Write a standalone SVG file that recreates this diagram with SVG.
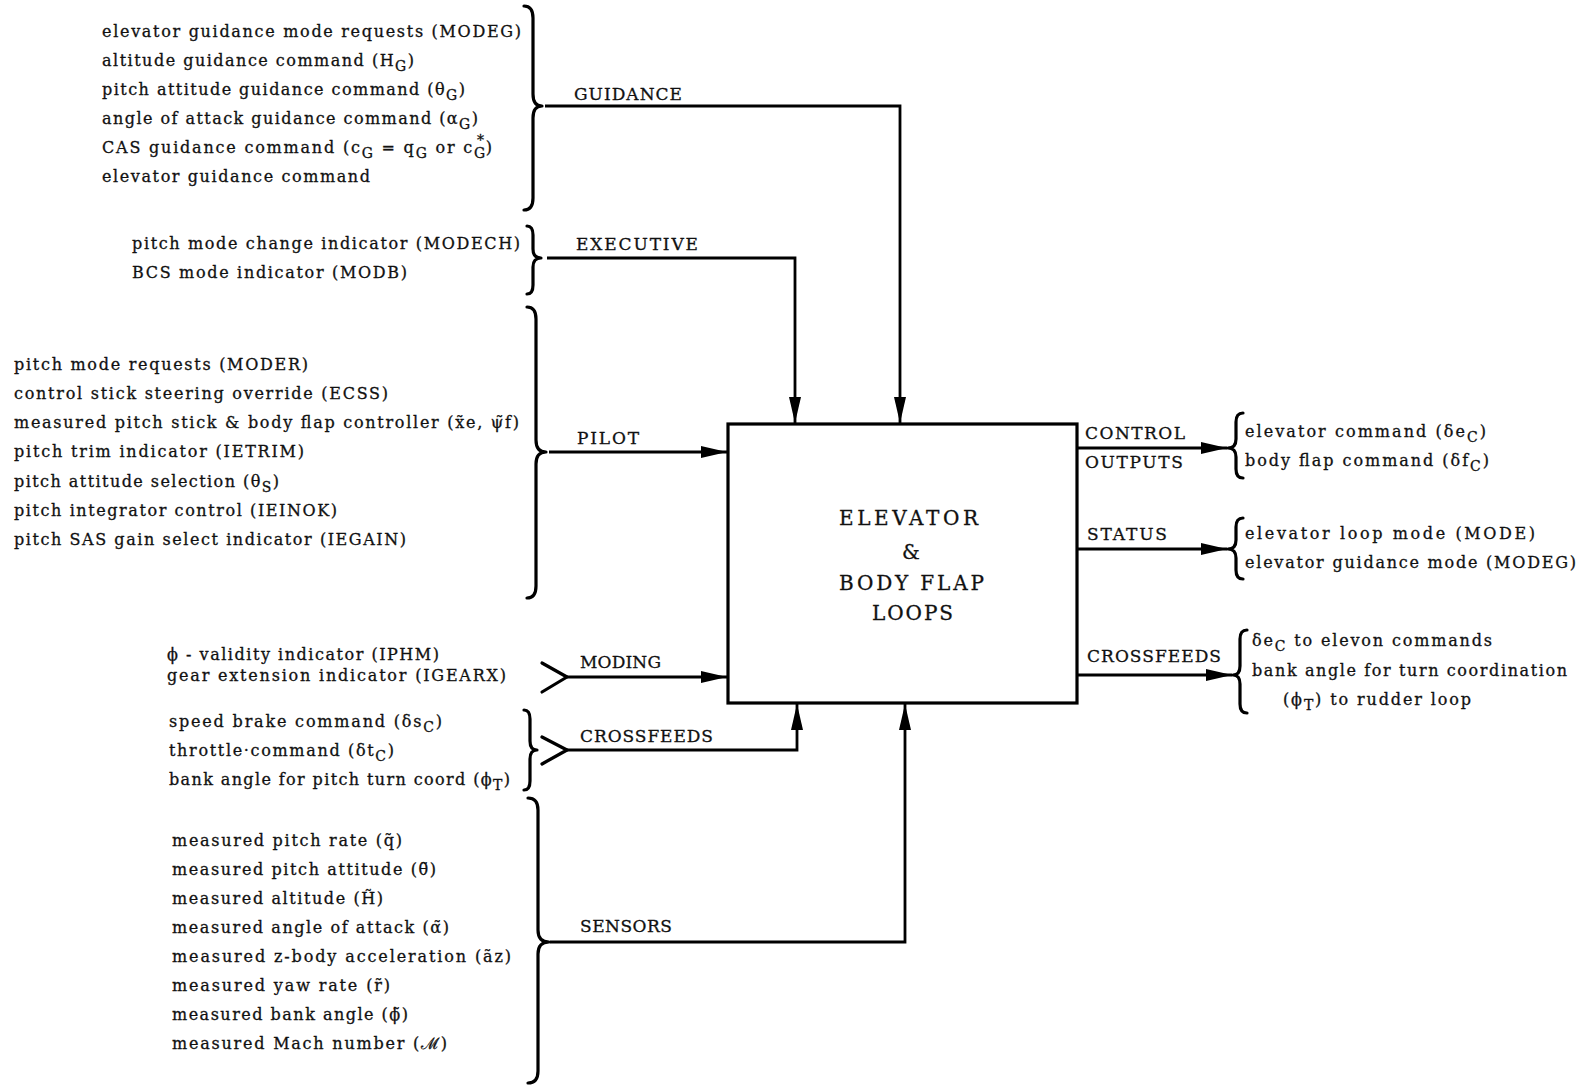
<svg xmlns="http://www.w3.org/2000/svg" width="1589" height="1085" viewBox="0 0 1589 1085">
<style>
.t{font-family:"DejaVu Serif","Liberation Serif",serif;font-size:16px;fill:#111;stroke:#111;stroke-width:0.3}
.lb{font-size:17px}
.bx{font-size:20px}
.s{font-size:14px}
.ln{fill:none;stroke:#000;stroke-width:2.8}
.br{fill:none;stroke:#000;stroke-width:3.2;stroke-linecap:round;stroke-linejoin:round}
.box{fill:#fff;stroke:#000;stroke-width:3.2}
</style>
<defs>
<marker id="ah" markerUnits="userSpaceOnUse" markerWidth="28" markerHeight="14" refX="26" refY="6" orient="auto">
<path d="M0,0 L26,6 L0,12 z" fill="#000"/>
</marker>
</defs>
<rect width="1589" height="1085" fill="#fff"/>

<g id="box">
<rect class="box" x="728" y="424" width="349" height="279"/>
<text class="t bx" x="839" y="525" textLength="139" lengthAdjust="spacing">ELEVATOR</text>
<text class="t bx" x="902" y="559">&amp;</text>
<text class="t bx" x="839" y="590" textLength="145" lengthAdjust="spacing">BODY FLAP</text>
<text class="t bx" x="872" y="620" textLength="81" lengthAdjust="spacing">LOOPS</text>
</g>

<g id="guidance-inputs">
<text class="t" x="102" y="37" textLength="419" lengthAdjust="spacing">elevator guidance mode requests (MODEG)</text>
<text class="t" x="102" y="66" textLength="312" lengthAdjust="spacing">altitude guidance command (H<tspan class="s" dy="5">G</tspan><tspan dy="-5">)</tspan></text>
<text class="t" x="102" y="95" textLength="363" lengthAdjust="spacing">pitch attitude guidance command (θ<tspan class="s" dy="5">G</tspan><tspan dy="-5">)</tspan></text>
<text class="t" x="102" y="124" textLength="376" lengthAdjust="spacing">angle of attack guidance command (α<tspan class="s" dy="5">G</tspan><tspan dy="-5">)</tspan></text>
<text class="t" x="102" y="153" textLength="390" lengthAdjust="spacing">CAS guidance command (c<tspan class="s" dy="5">G</tspan><tspan dy="-5"> = q</tspan><tspan class="s" dy="5">G</tspan><tspan dy="-5"> or c</tspan><tspan class="s" dy="5">G</tspan><tspan class="s" dx="-10" dy="-13">*</tspan><tspan dy="8">)</tspan></text>
<text class="t" x="102" y="182" textLength="268" lengthAdjust="spacing">elevator guidance command</text>
<path class="br" d="M524,6 Q533,6 533,18 L533,94 Q533,106 542,106 Q533,106 533,118 L533,198 Q533,210 524,210"/>
</g>

<g id="executive-inputs">
<text class="t" x="132" y="249" textLength="388" lengthAdjust="spacing">pitch mode change  indicator (MODECH)</text>
<text class="t" x="132" y="278" textLength="275" lengthAdjust="spacing">BCS mode indicator (MODB)</text>
<path class="br" d="M527,226 Q533,226 533,235 L533,249 Q533,258 541,258 Q533,258 533,267 L533,285 Q533,294 527,294"/>
</g>

<g id="pilot-inputs">
<text class="t" x="14" y="370" textLength="294" lengthAdjust="spacing">pitch mode requests (MODER)</text>
<text class="t" x="14" y="399" textLength="374" lengthAdjust="spacing">control stick steering override (ECSS)</text>
<text class="t" x="14" y="428" textLength="505" lengthAdjust="spacing">measured pitch stick &amp; body flap controller (x̃e, ψ̃f)</text>
<text class="t" x="14" y="457" textLength="290" lengthAdjust="spacing">pitch trim indicator (IETRIM)</text>
<text class="t" x="14" y="487" textLength="265" lengthAdjust="spacing">pitch attitude selection (θ<tspan class="s" dy="5">S</tspan><tspan dy="-5">)</tspan></text>
<text class="t" x="14" y="516" textLength="323" lengthAdjust="spacing">pitch integrator control (IEINOK)</text>
<text class="t" x="14" y="545" textLength="392" lengthAdjust="spacing">pitch SAS gain select indicator (IEGAIN)</text>
<path class="br" d="M527,307 Q536,307 536,319 L536,440 Q536,452 546,452 Q536,452 536,464 L536,586 Q536,598 527,598"/>
</g>

<g id="moding-inputs">
<text class="t" x="167" y="660" textLength="272" lengthAdjust="spacing">ϕ - validity indicator (IPHM)</text>
<text class="t" x="167" y="681" textLength="339" lengthAdjust="spacing">gear extension indicator (IGEARX)</text>
<path class="br" d="M542,663 L567,677 L542,692"/>
</g>

<g id="crossfeed-inputs">
<text class="t" x="169" y="727" textLength="273" lengthAdjust="spacing">speed brake command (δs<tspan class="s" dy="5">C</tspan><tspan dy="-5">)</tspan></text>
<text class="t" x="169" y="756" textLength="225" lengthAdjust="spacing">throttle·command (δt<tspan class="s" dy="5">C</tspan><tspan dy="-5">)</tspan></text>
<text class="t" x="169" y="785" textLength="341" lengthAdjust="spacing">bank angle for pitch turn coord (ϕ<tspan class="s" dy="5">T</tspan><tspan dy="-5">)</tspan></text>
<path class="br" d="M524,710 Q530,710 530,719 L530,741 Q530,750 537,750 Q530,750 530,759 L530,781 Q530,790 524,790"/>
<path class="br" d="M542,737 L567,750 L542,764"/>
</g>

<g id="sensor-inputs">
<text class="t" x="172" y="846" textLength="230" lengthAdjust="spacing">measured pitch rate (q̃)</text>
<text class="t" x="172" y="875" textLength="264" lengthAdjust="spacing">measured pitch attitude (θ̃)</text>
<text class="t" x="172" y="904" textLength="211" lengthAdjust="spacing">measured altitude (H̃)</text>
<text class="t" x="172" y="933" textLength="277" lengthAdjust="spacing">measured angle of attack (α̃)</text>
<text class="t" x="172" y="962" textLength="339" lengthAdjust="spacing">measured z-body acceleration (ãz)</text>
<text class="t" x="172" y="991" textLength="218" lengthAdjust="spacing">measured yaw rate (r̃)</text>
<text class="t" x="172" y="1020" textLength="236" lengthAdjust="spacing">measured bank angle (ϕ̃)</text>
<text class="t" x="172" y="1049" textLength="275" lengthAdjust="spacing">measured Mach number (ℳ)</text>
<path class="br" d="M528,798 Q538,798 538,810 L538,930 Q538,942 549,942 Q538,942 538,954 L538,1071 Q538,1083 528,1083"/>
</g>

<g id="control-outputs">
<text class="t" x="1245" y="437" textLength="241" lengthAdjust="spacing">elevator command (δe<tspan class="s" dy="5">C</tspan><tspan dy="-5">)</tspan></text>
<text class="t" x="1245" y="466" textLength="244" lengthAdjust="spacing">body flap command (δf<tspan class="s" dy="5">C</tspan><tspan dy="-5">)</tspan></text>
<path class="br" d="M1243,413 Q1236,413 1236,422 L1236,439 Q1236,448 1228,448 Q1236,448 1236,457 L1236,469 Q1236,478 1243,478"/>
</g>

<g id="status-outputs">
<text class="t" x="1245" y="539" textLength="290" lengthAdjust="spacing">elevator loop mode (MODE)</text>
<text class="t" x="1245" y="568" textLength="331" lengthAdjust="spacing">elevator guidance mode (MODEG)</text>
<path class="br" d="M1243,518 Q1236,518 1236,527 L1236,540 Q1236,549 1228,549 Q1236,549 1236,558 L1236,570 Q1236,579 1243,579"/>
</g>

<g id="crossfeed-outputs">
<text class="t" x="1252" y="646" textLength="240" lengthAdjust="spacing">δe<tspan class="s" dy="5">C</tspan><tspan dy="-5"> to elevon commands</tspan></text>
<text class="t" x="1252" y="676" textLength="315" lengthAdjust="spacing">bank angle for turn coordination</text>
<text class="t" x="1283" y="705" textLength="188" lengthAdjust="spacing">(ϕ<tspan class="s" dy="5">T</tspan><tspan dy="-5">) to rudder loop</tspan></text>
<path class="br" d="M1247,630 Q1240,630 1240,639 L1240,666 Q1240,675 1233,675 Q1240,675 1240,684 L1240,704 Q1240,713 1247,713"/>
</g>

<g id="connectors">
<path class="ln" d="M545,106 H900 V423" marker-end="url(#ah)"/>
<path class="ln" d="M547,258 H795 V423" marker-end="url(#ah)"/>
<path class="ln" d="M549,452 H727" marker-end="url(#ah)"/>
<path class="ln" d="M567,677 H727" marker-end="url(#ah)"/>
<path class="ln" d="M567,750 H797 V704" marker-end="url(#ah)"/>
<path class="ln" d="M550,942 H905 V704" marker-end="url(#ah)"/>
<path class="ln" d="M1077,448 H1227" marker-end="url(#ah)"/>
<path class="ln" d="M1077,549 H1227" marker-end="url(#ah)"/>
<path class="ln" d="M1077,675 H1232" marker-end="url(#ah)"/>
<text class="t lb" x="574" y="100" textLength="108" lengthAdjust="spacing">GUIDANCE</text>
<text class="t lb" x="576" y="250" textLength="122" lengthAdjust="spacing">EXECUTIVE</text>
<text class="t lb" x="577" y="444" textLength="62" lengthAdjust="spacing">PILOT</text>
<text class="t lb" x="580" y="668" textLength="81" lengthAdjust="spacing">MODING</text>
<text class="t lb" x="580" y="742" textLength="133" lengthAdjust="spacing">CROSSFEEDS</text>
<text class="t lb" x="580" y="932" textLength="92" lengthAdjust="spacing">SENSORS</text>
<text class="t lb" x="1085" y="439" textLength="100" lengthAdjust="spacing">CONTROL</text>
<text class="t lb" x="1085" y="468" textLength="98" lengthAdjust="spacing">OUTPUTS</text>
<text class="t lb" x="1087" y="540" textLength="80" lengthAdjust="spacing">STATUS</text>
<text class="t lb" x="1087" y="662" textLength="134" lengthAdjust="spacing">CROSSFEEDS</text>
</g>
</svg>
